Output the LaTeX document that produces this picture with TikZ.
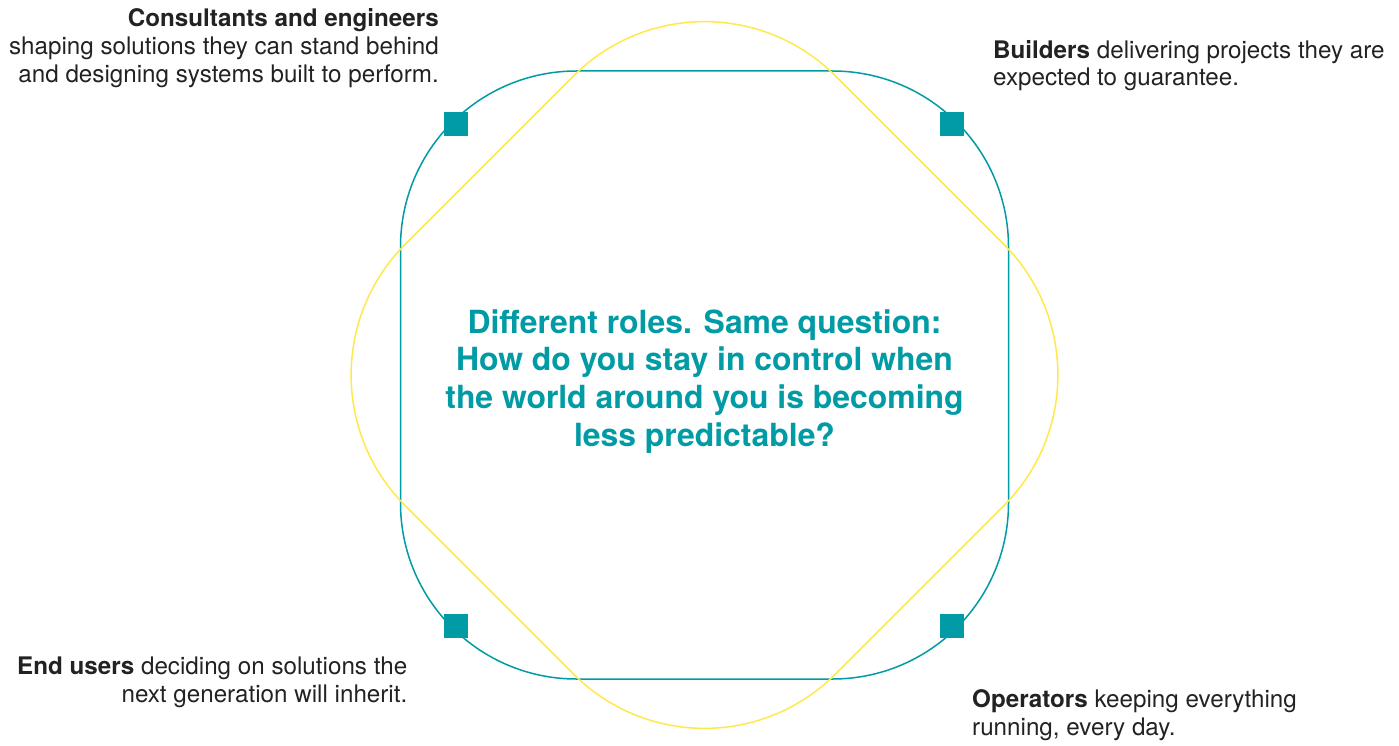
\documentclass[tikz,border=0pt]{standalone}
\usepackage{fontspec}
\usetikzlibrary{calc}
\setmainfont{TeX Gyre Heros}
\definecolor{tealc}{HTML}{009BA4}
\definecolor{sun}{HTML}{FFE94A}
\definecolor{ink}{HTML}{222222}
\begin{document}
\begin{tikzpicture}[x=1pt,y=-1pt,
  tealline/.style={draw=tealc,line width=1.5pt},
  sunline/.style={draw=sun,line width=1.5pt},
  marker/.style={fill=tealc,draw=none,minimum size=24pt,inner sep=0pt,shape=rectangle},
  lbl/.style={text=ink,inner sep=0pt,font=\fontsize{24.2}{27.8}\selectfont},
  headline/.style={text=tealc,inner sep=0pt,align=center,font=\fontsize{31.9}{37.8}\selectfont\bfseries}]
\useasboundingbox (0,0) rectangle (1399,746);
\coordinate (c) at (704.5,375);
% teal rounded square
\draw[tealline,rounded corners=176pt] (400.5,71) rectangle (1008.5,679);
% yellow rounded diamond
\draw[sunline,rounded corners=185pt] ($(c)+(-430,0)$) -- ($(c)+(0,-430)$) -- ($(c)+(430,0)$) -- ($(c)+(0,430)$) -- cycle;
% markers
\node[marker] (m1) at (455.5,124) {};
\node[marker] (m2) at (952,124) {};
\node[marker] (m3) at (455.5,626) {};
\node[marker] (m4) at (952,626) {};
% center text
\node[headline,anchor=base] (q) at (704.5,446.5) {Different roles. Same question:\\How do you stay in control when\\the world around you is becoming\\less predictable?};
% labels
\node[lbl,align=right,anchor=base east] (l1) at (439,82.5) {\textbf{Consultants and engineers}\\shaping solutions they can stand behind\\and designing systems built to perform.};
\node[lbl,align=left,anchor=base west] (l2) at (993,86) {\textbf{Builders} delivering projects they are\\expected to guarantee.};
\node[lbl,align=right,anchor=base east] (l3) at (407.5,702.5) {\textbf{End users} deciding on solutions the\\next generation will inherit.};
\node[lbl,align=left,anchor=base west] (l4) at (972,735) {\textbf{Operators} keeping everything\\running, every day.};
\end{tikzpicture}
\end{document}
